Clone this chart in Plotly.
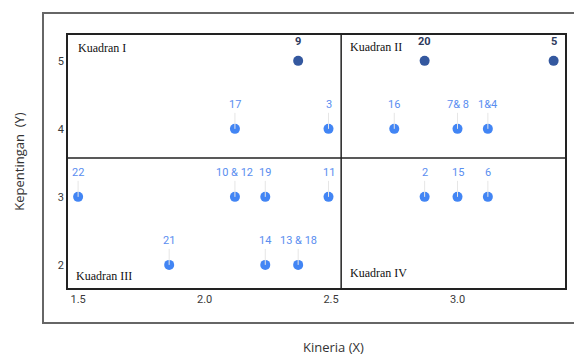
import plotly.graph_objects as go

labels = ["22", "21", "10 & 12", "19", "14", "13 & 18", "17", "9", "3", "11",
          "16", "20", "2", "7& 8", "15", "1&4", "6", "5"]
kinerja = [1.5, 1.86, 2.12, 2.24, 2.24, 2.37, 2.12, 2.37, 2.49, 2.49,
           2.75, 2.87, 2.87, 3.0, 3.0, 3.12, 3.12, 3.38]
kepentingan = [3, 2, 3, 3, 2, 2, 4, 5, 4, 3, 4, 5, 3, 4, 3, 4, 3, 5]
highlight = ["9", "20", "5"]

quadrant_names = ["Kuadran I", "Kuadran II", "Kuadran III", "Kuadran IV"]
quadrant_x = [1.49, 2.567, 1.484, 2.567]
quadrant_y = [5.19, 5.2, 1.84, 1.88]

x_mean = 2.54
y_mean = 3.57
x_range = [1.46, 3.425]
y_range = [1.66, 5.38]

light_blue = "#5a8ef0"

colors = ["#34589f" if l in highlight else "#4285f4" for l in labels]

fig = go.Figure()
fig.add_trace(go.Scatter(
    x=kinerja, y=kepentingan, mode="markers",
    marker=dict(size=10, color=colors),
    hoverinfo="skip", showlegend=False,
))

for l, xv, yv in zip(labels, kinerja, kepentingan):
    hl = l in highlight
    fig.add_annotation(
        x=xv, y=yv, text=f"<b>{l}</b>" if hl else l,
        showarrow=True, arrowhead=0, arrowwidth=1,
        arrowcolor="rgba(0,0,0,0)" if hl else "#e6e6e6",
        ax=0, ay=-19 if hl else -24, yanchor="middle",
        font=dict(family="Roboto, sans-serif", size=11,
                  color="#2e3a5c" if hl else light_blue),
        standoff=0,
    )

for name, qx, qy in zip(quadrant_names, quadrant_x, quadrant_y):
    fig.add_annotation(
        x=qx, y=qy, text=name, showarrow=False, xanchor="left",
        font=dict(family="Liberation Serif, Times New Roman, serif", size=12, color="#111"),
    )

# x-axis title (placed slightly right of centre, as in the original)
fig.add_annotation(
    xref="paper", yref="paper", x=0.535, y=-0.235, text="Kineria (X)",
    showarrow=False, xanchor="center", yanchor="middle",
    font=dict(family="Open Sans, sans-serif", size=13, color="#333"),
)

# quadrant dividers
fig.add_shape(type="line", x0=x_mean, x1=x_mean, y0=y_range[0], y1=y_range[1],
              line=dict(color="#222", width=1.5))
fig.add_shape(type="line", x0=x_range[0], x1=x_range[1], y0=y_mean, y1=y_mean,
              line=dict(color="#222", width=1.5))
# outer frame
fig.add_shape(type="rect", xref="paper", yref="paper",
              x0=-0.0503, x1=1.08, y0=-0.138, y1=1.087,
              line=dict(color="#666", width=2))

fig.update_xaxes(
    range=x_range, tickvals=[1.5, 2.0, 2.5, 3.0], ticktext=["1.5", "2.0", "2.5", "3.0"],
    showgrid=False, zeroline=False, showline=True, mirror=True,
    linecolor="#222", linewidth=1.5, ticks="", automargin=False,
    tickfont=dict(family="Roboto, sans-serif", size=11, color="#3a3a3a"),
)
fig.update_yaxes(
    range=y_range, tickvals=[2, 3, 4, 5], ticktext=["2", "3", "4", "5"],
    showgrid=False, zeroline=False, showline=True, mirror=True,
    linecolor="#222", linewidth=1.5, ticks="", automargin=False,
    tickfont=dict(family="Roboto, sans-serif", size=11, color="#3a3a3a"),
    title=dict(text="Kepentingan  (Y)", standoff=30,
               font=dict(family="Open Sans, sans-serif", size=13, color="#333")),
)
fig.update_layout(
    width=582, height=355,
    margin=dict(l=60, r=25, t=27, b=75, autoexpand=False),
    plot_bgcolor="white", paper_bgcolor="white",
)

fig.write_html("out.html")
